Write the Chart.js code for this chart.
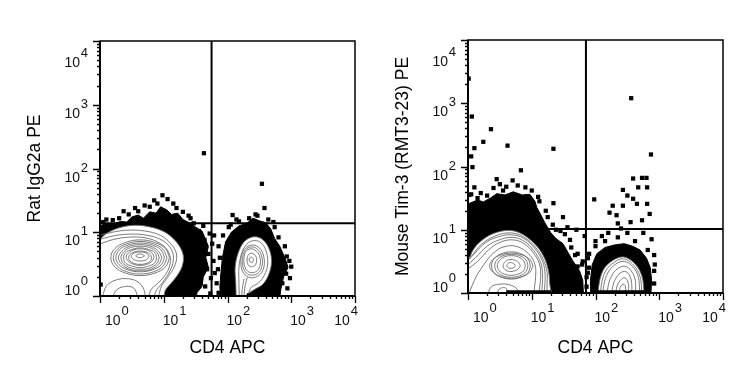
<!DOCTYPE html>
<html>
<head>
<meta charset="utf-8">
<script src="https://cdn.jsdelivr.net/npm/chart.js@4"></script>
<style>
  html, body { margin: 0; padding: 0; background: #fff; }
  #wrap { display: flex; width: 744px; height: 372px; }
  canvas { display: block; }
</style>
</head>
<body>
<div id="wrap">
  <canvas id="isotypePlot" width="372" height="372"></canvas>
  <canvas id="tim3Plot" width="372" height="372"></canvas>
</div>
<script>
const decadeLabels = [0, 1, 2, 3, 4];            // 10^0 ... 10^4 on both axes
const minorSteps = [2, 3, 4, 5, 6, 7, 8, 9];
const titleX = "CD4 APC";
const isoTitleY = "Rat IgG2a PE";
const timTitleY = "Mouse Tim-3 (RMT3-23) PE";

// quadrant gates [CD4, PE]
const isoGate = [1.75, 1.14];
const timGate = [1.85, 1.01];

// ---- Rat IgG2a isotype (left) ----
const isoHaloNeg = [[-0.2,1.06],[0.0,1.1],[0.1,1.14],[0.22,1.13],[0.32,1.17],[0.42,1.16],[0.5,1.24],[0.6,1.27],[0.68,1.22],[0.78,1.32],[0.88,1.3],[0.95,1.4],[1.05,1.35],[1.12,1.28],[1.22,1.3],[1.3,1.2],[1.4,1.15],[1.5,1.08],[1.6,1.02],[1.65,0.9],[1.7,0.78],[1.66,0.6],[1.7,0.45],[1.62,0.3],[1.6,0.15],[1.52,0.05],[1.5,-0.2],[-0.2,-0.2]];
const isoHaloPos = [[1.9,-0.2],[1.88,0.15],[1.9,0.4],[1.92,0.6],[1.97,0.85],[2.06,1.0],[2.18,1.1],[2.3,1.14],[2.4,1.22],[2.5,1.18],[2.6,1.15],[2.68,1.05],[2.74,0.9],[2.82,0.78],[2.9,0.6],[2.95,0.45],[2.88,0.3],[2.84,0.12],[2.78,-0.2]];
const isoOuterNeg = [[-0.2,0.88],[0.0,0.9],[0.1,0.98],[0.3,1.07],[0.55,1.11],[0.8,1.08],[1.0,1.01],[1.15,0.9],[1.26,0.76],[1.31,0.6],[1.27,0.42],[1.15,0.24],[1.02,0.08],[0.97,-0.2],[-0.2,-0.2]];
const isoOuterPos = [[2.14,-0.2],[2.13,0.2],[2.12,0.45],[2.17,0.68],[2.27,0.86],[2.42,0.93],[2.56,0.88],[2.66,0.72],[2.69,0.52],[2.64,0.32],[2.55,0.18],[2.42,0.1],[2.34,0.04],[2.31,-0.2]];
const isoArcs = [
  [[-0.2,0.9],[0.1,0.98],[0.4,1.03],[0.7,1.02],[0.95,0.95],[1.1,0.83],[1.2,0.66],[1.17,0.47],[1.06,0.29],[0.95,0.12],[0.9,-0.2]],
  [[-0.2,0.82],[0.15,0.93],[0.45,0.97],[0.75,0.95],[0.98,0.87],[1.12,0.73],[1.15,0.56],[1.09,0.38],[0.98,0.21],[0.87,0.06],[0.82,-0.2]],
  [[-0.2,0.72],[0.12,0.86],[0.42,0.92],[0.72,0.91],[0.95,0.82],[1.08,0.68],[1.1,0.51],[1.03,0.34],[0.91,0.2],[0.79,0.08],[0.74,-0.2]],
  [[0.02,-0.2],[0.08,0.12],[0.22,0.24],[0.45,0.27],[0.62,0.2],[0.7,0.06],[0.72,-0.2]],
  [[0.18,-0.2],[0.24,0.07],[0.4,0.15],[0.55,0.1],[0.6,-0.2]],
  [[2.19,-0.2],[2.18,0.2],[2.18,0.45],[2.22,0.66],[2.3,0.81],[2.42,0.87],[2.53,0.83],[2.61,0.69],[2.63,0.5],[2.58,0.33],[2.48,0.2],[2.36,0.12],[2.28,-0.2]],
  [[2.21,-0.2],[2.23,0.1],[2.26,0.27]],
  [[2.25,-0.2],[2.27,0.12],[2.31,0.29]]
];
const isoLoops = [
  [[1.09,0.6],[1.03,0.74],[0.86,0.84],[0.63,0.88],[0.4,0.84],[0.23,0.74],[0.17,0.6],[0.23,0.46],[0.4,0.36],[0.63,0.32],[0.86,0.36],[1.03,0.46]],
  [[1.05,0.6],[0.99,0.73],[0.84,0.82],[0.63,0.855],[0.42,0.82],[0.27,0.73],[0.21,0.6],[0.27,0.47],[0.42,0.38],[0.63,0.345],[0.84,0.38],[0.99,0.47]],
  [[1.01,0.6],[0.96,0.72],[0.82,0.8],[0.63,0.83],[0.44,0.8],[0.3,0.72],[0.25,0.6],[0.3,0.49],[0.44,0.41],[0.63,0.38],[0.82,0.41],[0.96,0.49]],
  [[0.97,0.6],[0.92,0.7],[0.8,0.78],[0.63,0.805],[0.46,0.78],[0.34,0.7],[0.29,0.6],[0.34,0.5],[0.46,0.42],[0.63,0.395],[0.8,0.42],[0.92,0.5]],
  [[0.93,0.6],[0.89,0.69],[0.78,0.76],[0.63,0.78],[0.48,0.76],[0.37,0.69],[0.33,0.6],[0.37,0.51],[0.48,0.44],[0.63,0.42],[0.78,0.44],[0.89,0.51]],
  [[0.89,0.6],[0.86,0.68],[0.76,0.73],[0.63,0.755],[0.5,0.73],[0.4,0.68],[0.37,0.6],[0.4,0.52],[0.5,0.47],[0.63,0.445],[0.76,0.47],[0.86,0.52]],
  [[0.85,0.61],[0.82,0.67],[0.74,0.72],[0.63,0.74],[0.52,0.72],[0.44,0.67],[0.41,0.61],[0.44,0.55],[0.52,0.5],[0.63,0.48],[0.74,0.5],[0.82,0.55]],
  [[0.81,0.6],[0.79,0.65],[0.72,0.69],[0.63,0.705],[0.54,0.69],[0.47,0.65],[0.45,0.6],[0.47,0.55],[0.54,0.51],[0.63,0.495],[0.72,0.51],[0.79,0.55]],
  [[0.77,0.62],[0.73,0.67],[0.63,0.69],[0.53,0.67],[0.49,0.62],[0.53,0.57],[0.63,0.55],[0.73,0.57]],
  [[0.7,0.63],[0.63,0.66],[0.56,0.63],[0.63,0.6]],
  [[2.58,0.55],[2.55,0.68],[2.48,0.77],[2.38,0.8],[2.28,0.75],[2.22,0.64],[2.21,0.5],[2.24,0.38],[2.32,0.3],[2.42,0.29],[2.52,0.35],[2.57,0.45]],
  [[2.55,0.555],[2.52,0.67],[2.455,0.745],[2.37,0.77],[2.285,0.725],[2.24,0.625],[2.235,0.5],[2.265,0.4],[2.335,0.335],[2.42,0.33],[2.5,0.38],[2.54,0.465]],
  [[2.52,0.56],[2.49,0.66],[2.43,0.72],[2.36,0.74],[2.29,0.7],[2.26,0.61],[2.26,0.5],[2.29,0.42],[2.35,0.37],[2.42,0.37],[2.48,0.41],[2.51,0.48]],
  [[2.46,0.57],[2.44,0.63],[2.39,0.67],[2.34,0.66],[2.31,0.6],[2.31,0.53],[2.34,0.47],[2.39,0.46],[2.44,0.49]],
  [[2.41,0.57],[2.39,0.6],[2.36,0.61],[2.34,0.58],[2.35,0.54],[2.38,0.53],[2.4,0.54]]
];
const isoPileup = [[[2.3,0.02],[2.72,0.02]]];
const isoDots = [
  [1.63,2.24],[2.54,1.76],[0.37,1.33],[1.06,1.52],[2.08,1.27],[2.58,1.38],[1.39,1.26],
  [0.9,1.45],[0.78,1.4],[1.15,1.45],[0.6,1.33],[0.2,1.19],[0.05,1.16],[1.3,1.32],[1.47,1.14],[1.55,1.02],
  [1.64,0.88],[1.7,0.66],[1.68,0.42],[1.74,0.28],[1.65,0.15],[1.73,0.04],[1.86,0.05],[1.92,0.3],[1.88,0.6],[0.01,0.18],
  [2.02,1.08],[2.18,1.17],[2.34,1.22],[2.47,1.26],[2.64,1.2],[2.74,1.08],[2.8,0.92],[2.93,0.62],[3.0,0.46],
  [2.92,0.35],[2.86,0.2],[2.8,0.05],[1.98,0.02],
  [0.1,1.2],[0.3,1.22],[0.45,1.28],[0.55,1.38],[0.7,1.42],[0.85,1.5],[0.98,1.58],[1.2,1.38],[1.42,1.22],
  [1.62,1.1],[1.72,0.98],[1.76,0.82],[1.78,0.55],[1.58,0.22],[1.46,0.04],[1.8,0.36],
  [1.85,0.42],[1.86,0.78],[1.83,0.2],[1.93,0.95],[2.05,1.12],[2.14,1.2],[2.97,0.55],[2.98,0.28],[2.9,0.78],
  [2.94,0.12],[1.79,0.95],[2.72,1.16],[2.44,1.28]
];

// ---- Mouse Tim-3 (right) ----
const timHaloNeg = [[-0.2,1.42],[0.03,1.42],[0.15,1.47],[0.24,1.44],[0.35,1.5],[0.45,1.57],[0.58,1.55],[0.71,1.6],[0.85,1.55],[0.97,1.56],[1.05,1.45],[1.08,1.35],[1.15,1.22],[1.2,1.12],[1.3,0.95],[1.38,0.86],[1.49,0.78],[1.58,0.62],[1.65,0.5],[1.75,0.35],[1.8,0.2],[1.82,-0.2],[-0.2,-0.2]];
const timHaloPos = [[1.93,-0.2],[1.92,0.2],[1.95,0.45],[2.02,0.62],[2.15,0.72],[2.3,0.76],[2.45,0.78],[2.58,0.74],[2.7,0.68],[2.8,0.55],[2.86,0.4],[2.88,0.2],[2.86,-0.2]];
const timOuterNeg = [[-0.2,0.5],[0.0,0.54],[0.08,0.68],[0.19,0.81],[0.4,0.94],[0.66,0.99],[0.87,0.92],[1.08,0.74],[1.2,0.55],[1.26,0.36],[1.28,0.18],[1.27,-0.2],[-0.2,-0.2]];
const timOuterPos = [[2.03,-0.2],[2.05,0.1],[2.12,0.36],[2.28,0.52],[2.44,0.57],[2.59,0.49],[2.7,0.34],[2.75,0.15],[2.76,-0.2]];
const timArcs = [
  [[-0.2,0.36],[0.05,0.58],[0.2,0.76],[0.42,0.9],[0.66,0.95],[0.87,0.89],[1.06,0.72],[1.18,0.53],[1.24,0.33],[1.24,0.1],[1.24,-0.2]],
  [[-0.2,0.3],[0.1,0.62],[0.28,0.8],[0.48,0.89],[0.68,0.92],[0.88,0.86],[1.05,0.7],[1.17,0.5],[1.21,0.28],[1.2,0.05],[1.2,-0.2]],
  [[-0.2,0.27],[0.12,0.56],[0.3,0.74],[0.49,0.84],[0.69,0.88],[0.88,0.82],[1.03,0.67],[1.14,0.48],[1.17,0.27],[1.16,0.05],[1.15,-0.2]],
  [[-0.2,0.24],[0.15,0.5],[0.32,0.68],[0.5,0.8],[0.7,0.84],[0.88,0.78],[1.02,0.64],[1.12,0.46],[1.14,0.26],[1.12,0.05],[1.11,-0.2]],
  [[-0.05,-0.2],[0.1,0.2],[0.25,0.45],[0.42,0.65],[0.6,0.74],[0.78,0.73],[0.95,0.62],[1.05,0.45],[1.06,0.25],[1.04,0.05],[1.03,-0.2]],
  [[0.3,-0.2],[0.35,0.08],[0.5,0.14],[0.68,0.12],[0.78,0.04],[0.8,-0.2]],
  [[0.42,-0.2],[0.48,0.05],[0.6,0.07],[0.68,-0.2]],
  [[2.07,-0.2],[2.09,0.11],[2.16,0.35],[2.3,0.49],[2.44,0.54],[2.58,0.46],[2.68,0.31],[2.72,0.12],[2.72,-0.2]],
  [[2.1,-0.2],[2.13,0.12],[2.2,0.33],[2.32,0.46],[2.45,0.5],[2.57,0.43],[2.66,0.29],[2.69,0.1],[2.69,-0.2]],
  [[2.17,-0.2],[2.2,0.12],[2.27,0.3],[2.37,0.4],[2.47,0.42],[2.56,0.35],[2.62,0.22],[2.63,0.05],[2.63,-0.2]],
  [[2.24,-0.2],[2.27,0.1],[2.33,0.25],[2.41,0.33],[2.49,0.33],[2.55,0.24],[2.57,0.1],[2.57,-0.2]],
  [[2.3,-0.2],[2.33,0.08],[2.39,0.2],[2.46,0.24],[2.51,0.17],[2.52,0.03],[2.52,-0.2]],
  [[2.36,-0.2],[2.38,0.06],[2.43,0.14],[2.47,0.1],[2.48,-0.2]]
];
const timLoops = [
  [[1.02,0.43],[0.97,0.53],[0.85,0.6],[0.68,0.63],[0.51,0.6],[0.39,0.53],[0.34,0.43],[0.39,0.33],[0.51,0.26],[0.68,0.23],[0.85,0.26],[0.97,0.33]],
  [[0.98,0.43],[0.94,0.54],[0.83,0.62],[0.68,0.65],[0.52,0.62],[0.41,0.54],[0.37,0.43],[0.41,0.32],[0.52,0.25],[0.68,0.22],[0.83,0.25],[0.94,0.32]],
  [[0.94,0.43],[0.91,0.52],[0.81,0.59],[0.68,0.61],[0.55,0.59],[0.45,0.52],[0.42,0.43],[0.45,0.34],[0.55,0.27],[0.68,0.25],[0.81,0.27],[0.91,0.34]],
  [[0.9,0.43],[0.87,0.51],[0.79,0.57],[0.68,0.59],[0.57,0.57],[0.49,0.51],[0.46,0.43],[0.49,0.35],[0.57,0.3],[0.68,0.28],[0.79,0.3],[0.87,0.35]],
  [[0.82,0.43],[0.79,0.49],[0.73,0.52],[0.66,0.53],[0.59,0.5],[0.55,0.43],[0.58,0.37],[0.65,0.34],[0.73,0.35],[0.79,0.38]],
  [[0.74,0.44],[0.71,0.47],[0.65,0.48],[0.61,0.44],[0.63,0.4],[0.68,0.39],[0.73,0.41]]
];
const timPileup = [[[0.6,0.02],[1.3,0.02]], [[2.02,0.02],[2.76,0.02]]];
const timDots = [
  [0.01,3.39],[0.06,2.79],[0.36,2.59],[0.24,2.39],[0.1,2.29],[0.05,2.16],[0.07,1.99],[0.62,2.33],[0.83,1.94],
  [1.34,2.28],[2.56,3.08],[2.87,2.19],[1.98,1.48],[0.1,1.67],[0.5,1.72],[1.34,1.42],[1.49,1.2],
  [2.59,1.81],[2.73,1.82],[2.8,1.82],[2.81,1.67],[2.67,1.67],[2.43,1.63],[2.5,1.54],[2.59,1.49],[2.65,1.41],
  [2.81,1.41],[2.43,1.38],[2.27,1.38],[2.22,1.27],[2.33,1.23],[2.85,1.25],[2.73,1.15],[2.55,1.12],[2.35,1.1],
  [2.4,1.02],[2.5,0.95],[2.2,0.95],[2.1,0.9],[2.75,0.95],[2.88,0.85],[2.92,0.6],[2.92,0.35],[2.0,0.82],[1.9,0.62],
  [1.7,1.0],[1.83,0.9],[1.8,0.5],[1.9,0.4],[1.72,0.62],[1.86,0.1],[1.76,0.05],
  [0.9,1.67],[0.6,1.68],[0.3,1.54],[0.15,1.5],[1.1,1.52],[1.22,1.3],[1.38,1.0],[1.52,0.93],[1.62,0.72],
  [1.72,0.42],[1.56,1.04],[0.02,1.55],
  [0.05,1.56],[0.2,1.58],[0.4,1.66],[0.55,1.62],[0.78,1.7],[1.0,1.62],[1.12,1.45],[1.25,1.2],[1.33,1.08],
  [1.45,0.98],[1.6,0.84],[1.68,0.6],[1.79,0.45],[1.86,0.25],[0.45,1.8],[0.7,1.78],
  [1.88,0.32],[1.88,0.55],[2.0,0.74],[2.15,0.82],[2.35,0.88],[2.62,0.82],[2.82,0.68],[2.93,0.45],[2.92,0.15]
];

const FONT = 'Arial, "Liberation Sans", sans-serif';
const toPoint = ([dx, dy]) => ({ x: 10 ** dx, y: 10 ** dy });

function buildDatasets(p) {
  const sets = [];
  const line = (pts, extra) => Object.assign({
    data: pts.map(toPoint), showLine: true, pointRadius: 0, pointHoverRadius: 0,
    fill: false, borderColor: '#6c6c6c', borderWidth: 0.9, tension: 0.4
  }, extra);

  p.halos.forEach(h => sets.push(line(h, { fill: 'shape', backgroundColor: '#000', borderColor: '#000', borderWidth: 1, tension: 0 })));
  p.outers.forEach(o => sets.push(line(o, { fill: 'shape', backgroundColor: '#fff', tension: 0.35 })));
  p.arcs.forEach(a => sets.push(line(a)));
  p.loops.forEach(l => sets.push(line([...l, l[0]])));
  p.pileups.forEach(s => sets.push(line(s, { borderColor: '#000', borderWidth: 3, tension: 0 })));
  sets.push({ data: p.dots.map(toPoint), showLine: false, pointStyle: 'rect', pointRadius: 3,
    pointHoverRadius: 3, backgroundColor: '#000', borderWidth: 0 });
  // quadrant gate
  sets.push(line([[p.gate[0], -0.5], [p.gate[0], 4.5]], { borderColor: '#000', borderWidth: 2, tension: 0 }));
  sets.push(line([[-0.5, p.gate[1]], [4.5, p.gate[1]]], { borderColor: '#000', borderWidth: 2, tension: 0 }));

  sets.forEach((s, i) => { s.order = sets.length - i; });
  return sets;
}

// axis frame, log ticks, 10^n labels and axis titles
const flowFrame = {
  id: 'flowFrame',
  afterDraw(chart, args, opts) {
    const { ctx, chartArea: a, scales: { x, y } } = chart;
    ctx.save();
    ctx.strokeStyle = '#000';
    ctx.lineWidth = 1.5;
    ctx.strokeRect(a.left, a.top, a.right - a.left, a.bottom - a.top);
    ctx.lineWidth = 2;
    ctx.beginPath();
    ctx.moveTo(a.left, a.top);
    ctx.lineTo(a.left, a.bottom);
    ctx.lineTo(a.right, a.bottom);
    ctx.stroke();

    const tick = (v, len) => {
      const px = Math.round(x.getPixelForValue(v)) + 0.5;
      const py = Math.round(y.getPixelForValue(v)) + 0.5;
      ctx.beginPath();
      ctx.moveTo(px, a.bottom); ctx.lineTo(px, a.bottom + len);
      ctx.moveTo(a.left - len, py); ctx.lineTo(a.left, py);
      ctx.stroke();
    };
    ctx.lineWidth = 1.3;
    decadeLabels.forEach((e, i) => {
      tick(10 ** e, 7);
      if (i < decadeLabels.length - 1) minorSteps.forEach(k => tick(k * 10 ** e, 3));
    });

    ctx.fillStyle = '#111';
    const last = decadeLabels.length - 1;
    decadeLabels.forEach((e, i) => {
      ctx.font = '14px ' + FONT;
      const w10 = ctx.measureText('10').width;
      ctx.font = '13px ' + FONT;
      const wSup = ctx.measureText(String(e)).width;

      // x axis
      const px = x.getPixelForValue(10 ** e);
      let left = i === 0 ? px + 5 : px - 1;
      if (i === last) left = px + 3 - (w10 + wSup + 1);
      ctx.textAlign = 'left';
      ctx.font = '14px ' + FONT;
      ctx.fillText('10', left, a.bottom + 29);
      ctx.font = '13px ' + FONT;
      ctx.fillText(String(e), left + w10 + 1, a.bottom + 19);

      // y axis
      const py = y.getPixelForValue(10 ** e);
      let base = py + 13;
      if (i === 0) base = py - 1;
      if (i === last) base = py + 26;
      ctx.textAlign = 'right';
      ctx.font = '14px ' + FONT;
      ctx.fillText('10', a.left - 20, base);
      ctx.font = '13px ' + FONT;
      ctx.fillText(String(e), a.left - 12, base - 10);
    });

    ctx.font = '17.5px ' + FONT;
    ctx.fillStyle = '#000';
    ctx.textAlign = 'center';
    ctx.textBaseline = 'alphabetic';
    ctx.fillText(titleX, (a.left + a.right) / 2, 353);
    ctx.translate(a.left - 60, (a.top + a.bottom) / 2);
    ctx.rotate(-Math.PI / 2);
    ctx.fillText(opts.yTitle, 0, 0);
    ctx.restore();
  }
};

function makePlot(id, p, box) {
  const axis = { type: 'logarithmic', min: 1, max: 10000,
    grid: { display: false }, border: { display: false }, ticks: { display: false } };
  return new Chart(document.getElementById(id), {
    type: 'scatter',
    data: { datasets: buildDatasets(p) },
    plugins: [flowFrame],
    options: {
      responsive: false,
      animation: false,
      devicePixelRatio: 1,
      events: [],
      layout: { padding: { top: box.top, right: box.right, left: 0, bottom: 0 } },
      elements: { line: { capBezierPoints: false } },
      plugins: { legend: { display: false }, tooltip: { enabled: false }, flowFrame: { yTitle: p.yTitle } },
      scales: {
        x: Object.assign({}, axis, { afterFit: s => { s.height = box.xh; } }),
        y: Object.assign({}, axis, { afterFit: s => { s.width = box.yw; } })
      }
    }
  });
}

makePlot('isotypePlot', {
  halos: [isoHaloNeg, isoHaloPos], outers: [isoOuterNeg, isoOuterPos],
  arcs: isoArcs, loops: isoLoops, pileups: isoPileup, dots: isoDots,
  gate: isoGate, yTitle: isoTitleY
}, { top: 41, right: 17, xh: 76, yw: 100 });

makePlot('tim3Plot', {
  halos: [timHaloNeg, timHaloPos], outers: [timOuterNeg, timOuterPos],
  arcs: timArcs, loops: timLoops, pileups: timPileup, dots: timDots,
  gate: timGate, yTitle: timTitleY
}, { top: 40, right: 21, xh: 79, yw: 96 });
</script>
</body>
</html>
